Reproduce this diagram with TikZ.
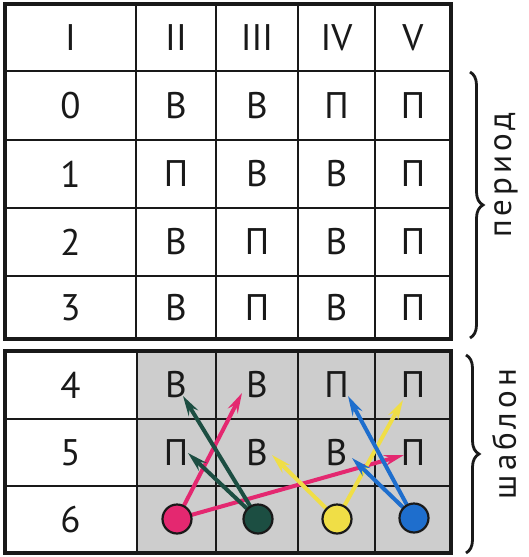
\documentclass[tikz,border=0pt]{standalone}
\usepackage{fontspec}
\setmainfont{PT Sans}
\usetikzlibrary{arrows.meta,decorations.pathreplacing}
\pgfdeclarelayer{back}
\pgfsetlayers{back,main}
\definecolor{ink}{RGB}{25,25,25}
\definecolor{pinkc}{RGB}{228,40,112}
\definecolor{greenc}{RGB}{28,78,66}
\definecolor{yellowc}{RGB}{240,222,70}
\definecolor{bluec}{RGB}{30,110,205}
\definecolor{grayc}{RGB}{205,205,205}
\begin{document}
\begin{tikzpicture}[x=1pt,y=-1pt,
  cell/.style={font=\fontsize{37}{37}\selectfont, text=ink, inner sep=0pt},
  gcell/.style={font=\fontsize{37}{37}\selectfont, text=ink, inner sep=0pt},
  gridline/.style={line width=1.5pt, draw=ink},
  headline/.style={line width=2.5pt, draw=ink},
  outerline/.style={line width=3.5pt, draw=ink},
  dot/.style={circle, draw=ink, line width=2.2pt, minimum size=29pt, inner sep=0pt},
  arr/.style={line width=4pt, shorten <=13pt, -{Stealth[length=20pt,width=11pt,inset=7pt]}},
  brc/.style={decorate, decoration={brace, amplitude=13pt}, line width=2.8pt, draw=ink},
  lbl/.style={font=\fontsize{33}{33}\selectfont\addfontfeature{LetterSpace=12}, text=ink, rotate=90, inner sep=0pt}]
\useasboundingbox (0,0) rectangle (528,557);
\begin{pgfonlayer}{back}
\fill[white] (0,0) rectangle (528,557);
\end{pgfonlayer}

% ---------- top table ----------
\foreach \x in {136,216,298,375} \draw[gridline] (\x,4) -- (\x,339);
\foreach \y in {140,208,276} \draw[gridline] (5,\y) -- (451,\y);
\draw[headline] (5,71) -- (451,71);
\draw[outerline] (5,4) rectangle (451,339);

\node[cell] (h1) at (70.5,37.5) {I};
\node[cell] (h2) at (176,37.5) {II};
\node[cell] (h3) at (257,37.5) {III};
\node[cell] (h4) at (336.5,37.5) {IV};
\node[cell] (h5) at (413,37.5) {V};

\node[cell] (a0) at (70.5,105.5) {0};
\node[cell] (b0) at (176,105.5) {В};
\node[cell] (c0) at (257,105.5) {В};
\node[cell] (d0) at (336.5,105.5) {П};
\node[cell] (e0) at (413,105.5) {П};

\node[cell] (a1) at (70.5,174) {1};
\node[cell] (b1) at (176,174) {П};
\node[cell] (c1) at (257,174) {В};
\node[cell] (d1) at (336.5,174) {В};
\node[cell] (e1) at (413,174) {П};

\node[cell] (a2) at (70.5,242) {2};
\node[cell] (b2) at (176,242) {В};
\node[cell] (c2) at (257,242) {П};
\node[cell] (d2) at (336.5,242) {В};
\node[cell] (e2) at (413,242) {П};

\node[cell] (a3) at (70.5,307.5) {3};
\node[cell] (b3) at (176,307.5) {В};
\node[cell] (c3) at (257,307.5) {П};
\node[cell] (d3) at (336.5,307.5) {В};
\node[cell] (e3) at (413,307.5) {П};

% ---------- bottom table ----------
\begin{pgfonlayer}{back}
\fill[grayc] (137,351) rectangle (451,553);
\foreach \x in {216,298,375} \draw[gridline, line width=2pt] (\x,351) -- (\x,553);
\foreach \y in {419,486} \draw[gridline, line width=2pt] (5,\y) -- (451,\y);
\draw[gridline, line width=2.2pt] (137,351) -- (137,553);
\end{pgfonlayer}
\draw[outerline] (5,351) rectangle (451,553);

\node[cell] (a4) at (70.5,385) {4};
\node[gcell] (b4) at (176,385) {В};
\node[gcell] (c4) at (257,385) {В};
\node[gcell] (d4) at (336.5,385) {П};
\node[gcell] (e4) at (413,385) {П};

\node[cell] (a5) at (70.5,452.5) {5};
\node[gcell] (b5) at (176,452.5) {П};
\node[gcell] (c5) at (257,452.5) {В};
\node[gcell] (d5) at (336.5,452.5) {В};
\node[gcell] (e5) at (413,452.5) {П};

\node[cell] (a6) at (70.5,519.5) {6};

% circle centres
\coordinate (pcc) at (177,519);
\coordinate (gcc) at (258,519);
\coordinate (ycc) at (337,519);
\coordinate (bcc) at (414,518);

% arrow tips
\coordinate (tp1) at (242,393);
\coordinate (tp2) at (404,455);
\coordinate (tg1) at (183,396);
\coordinate (tg2) at (188,453);
\coordinate (ty1) at (403,400);
\coordinate (ty2) at (272,455);
\coordinate (tb1) at (348,396);
\coordinate (tb2) at (352,458);

\draw[arr, draw=pinkc, fill=pinkc] (pcc) -- (tp1);
\draw[arr, draw=pinkc, fill=pinkc] (pcc) -- (tp2);
\draw[arr, draw=yellowc, fill=yellowc] (ycc) -- (ty1);
\draw[arr, draw=yellowc, fill=yellowc] (ycc) -- (ty2);
\draw[arr, draw=bluec, fill=bluec] (bcc) -- (tb1);
\draw[arr, draw=bluec, fill=bluec] (bcc) -- (tb2);
\draw[arr, draw=greenc, fill=greenc] (gcc) -- (tg1);
\draw[arr, draw=greenc, fill=greenc] (gcc) -- (tg2);

% circles
\node[dot, fill=pinkc] (pc) at (pcc) {};
\node[dot, fill=greenc] (gc) at (gcc) {};
\node[dot, fill=yellowc] (yc) at (ycc) {};
\node[dot, fill=bluec] (bc) at (bcc) {};

% ---------- braces and labels ----------
\coordinate (p1) at (470,72);
\coordinate (p2) at (470,338);
\draw[brc] (p1) -- (p2);
\node[lbl] (per) at (506,175) {период};

\coordinate (s1) at (466,355);
\coordinate (s2) at (466,553);
\draw[brc] (s1) -- (s2);
\node[lbl] (sha) at (504,434) {шаблон};
\end{tikzpicture}
\end{document}
